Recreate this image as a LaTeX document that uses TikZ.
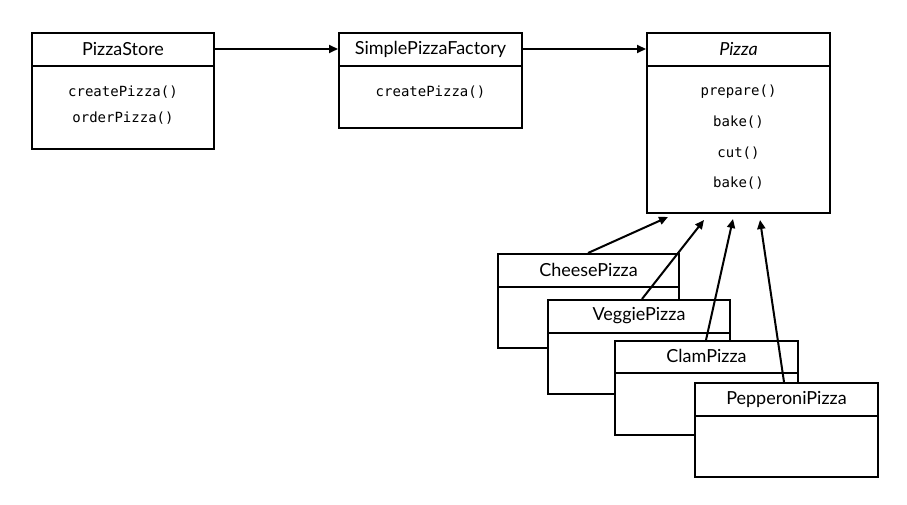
\documentclass[tikz,border=0pt]{standalone}
\usepackage{fontspec}
\setmainfont{Lato}
\newfontfamily\monofont{DejaVu Sans Mono}
\usetikzlibrary{arrows.meta,calc}
\begin{document}
\begin{tikzpicture}[x=1pt,y=-1pt,
  classbox/.style={draw=black, line width=2pt, fill=white, anchor=north west, inner sep=0pt, minimum width=182pt},
  divider/.style={draw=black, line width=2pt},
  titletext/.style={font=\fontsize{18}{21}\selectfont, inner sep=0pt},
  methodtext/.style={font=\monofont\fontsize{14}{17}\selectfont, inner sep=0pt},
  arr/.style={draw=black, line width=2pt, -{Triangle[length=9pt,width=8pt]}}]
\useasboundingbox[fill=white] (0,0) rectangle (907,505);

% PizzaStore
\node[classbox, minimum height=116pt] (store) at (31,32) {};
\draw[divider] ($(store.north west)+(0,34)$) -- ($(store.north east)+(0,34)$);
\node[titletext] (storeT) at ($(store.north)+(0,17)$) {PizzaStore};
\node[methodtext] (storeM1) at ($(store.north)+(0,60)$) {createPizza()};
\node[methodtext] (storeM2) at ($(store.north)+(0,86)$) {orderPizza()};

% SimplePizzaFactory
\node[classbox, minimum height=95pt, minimum width=183pt] (factory) at (338,32) {};
\draw[divider] ($(factory.north west)+(0,34)$) -- ($(factory.north east)+(0,34)$);
\node[titletext] (factoryT) at ($(factory.north)+(0,17)$) {SimplePizzaFactory};
\node[methodtext] (factoryM1) at ($(factory.north)+(0,60)$) {createPizza()};

% Pizza
\node[classbox, minimum height=180pt, minimum width=183pt] (pizza) at (646,32) {};
\draw[divider] ($(pizza.north west)+(0,34)$) -- ($(pizza.north east)+(0,34)$);
\node[titletext, font=\fontsize{18}{21}\selectfont\itshape] (pizzaT) at ($(pizza.north)+(0,17)$) {Pizza};
\node[methodtext] (pizzaM1) at ($(pizza.north)+(0,60)$) {prepare()};
\node[methodtext] (pizzaM2) at ($(pizza.north)+(0,90)$) {bake()};
\node[methodtext] (pizzaM3) at ($(pizza.north)+(0,121)$) {cut()};
\node[methodtext] (pizzaM4) at ($(pizza.north)+(0,151)$) {bake()};

% Subclasses
\node[classbox, minimum height=94pt, minimum width=181pt] (cheese) at (497,253) {};
\draw[divider] ($(cheese.north west)+(0,34)$) -- ($(cheese.north east)+(0,34)$);
\node[titletext] (cheeseT) at ($(cheese.north)+(0,17)$) {CheesePizza};

\node[classbox, minimum height=94pt] (veggie) at (547,299) {};
\draw[divider] ($(veggie.north west)+(0,34)$) -- ($(veggie.north east)+(0,34)$);
\node[titletext] (veggieT) at ($(veggie.north)+(0,17)$) {VeggiePizza};

\node[classbox, minimum height=94pt, minimum width=183pt] (clam) at (614,340) {};
\draw[divider] ($(clam.north west)+(0,33)$) -- ($(clam.north east)+(0,33)$);
\node[titletext] (clamT) at ($(clam.north)+(0,16)$) {ClamPizza};

\node[classbox, minimum height=94pt, minimum width=183pt] (pepperoni) at (694,382) {};
\draw[divider] ($(pepperoni.north west)+(0,34)$) -- ($(pepperoni.north east)+(0,34)$);
\node[titletext] (pepperoniT) at ($(pepperoni.north)+(0,17)$) {PepperoniPizza};

% Associations
\draw[arr] (store.east |- storeT) -- (factory.west |- storeT);
\draw[arr] (factory.east |- factoryT) -- (pizza.west |- factoryT);

% Inheritance arrows
\coordinate (cheeseTip) at ($(pizza.south west)+(22,3)$);
\coordinate (veggieTip) at ($(pizza.south west)+(58,6)$);
\coordinate (clamTip) at ($(pizza.south west)+(87,5)$);
\coordinate (pepperoniTip) at ($(pizza.south west)+(114,6)$);
\draw[arr] ($(cheese.north west)+(91,0)$) -- (cheeseTip);
\draw[arr] ($(veggie.north west)+(95,0)$) -- (veggieTip);
\draw[arr] ($(clam.north west)+(92,0)$) -- (clamTip);
\draw[arr] ($(pepperoni.north west)+(90,0)$) -- (pepperoniTip);
\end{tikzpicture}
\end{document}
